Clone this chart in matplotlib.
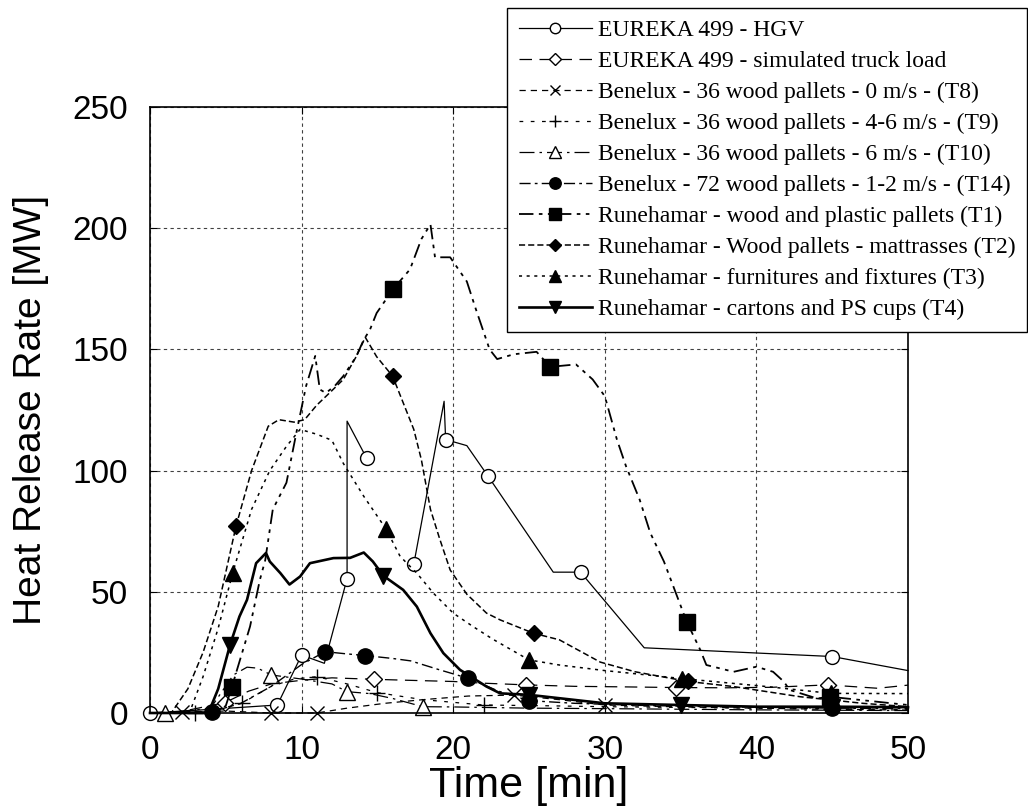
import numpy as np
import matplotlib
matplotlib.use("Agg")
import matplotlib.pyplot as plt

nan = np.nan

# EUREKA 499 - HGV
hgv_t = [0, 4, 8.4, 10.0, 11.5, 13.0, 13.0, 14.3, nan, 17.4, 19.4, 19.5, 20.9, 22.3, 26.6, 28.4, 32.6, 45.0, 50.0]
hgv_q = [0, 1.5, 3.3, 23.9, 20.5, 55.4, 120.4, 105.0, nan, 61.4, 128.6, 112.8, 110.3, 97.7, 58.1, 58.1, 26.9, 23.3, 17.5]
hgv_mk = [0, 2, 3, 5, 7, 9, 11, 13, 15, 17]

# EUREKA 499 - simulated truck load
sim_t = [0, 2, 4.95, 6.5, 8, 10, 12, 14.78, 17, 20, 22, 24.8, 28, 31, 34.7, 38, 41, 44.7, 48, 50]
sim_q = [0, 0.5, 4.3, 9, 12, 13.5, 14.5, 13.9, 13.5, 13, 12.3, 11.6, 11, 10.8, 10.5, 10.4, 10.6, 11.6, 10.2, 11.5]
sim_mk = [2, 7, 11, 14, 17]

# Benelux T8
t8_t = [0, 2.1, 5, 8, 11, 13, 15.5, 18, 21, 24, 27, 30, 35, 40, 45, 50]
t8_q = [0, 0.5, 0.8, 0, 0, 2, 4, 5.5, 7, 7.4, 5.5, 3.3, 2.5, 2, 1.5, 1.2]
t8_mk = [1, 3, 4, 9, 11]

# Benelux T9
t9_t = [0, 3, 4.5, 6.05, 8, 9.5, 11, 13, 15, 18, 22, 26, 30, 35, 40, 45, 50]
t9_q = [0, 0, 1.5, 4, 11, 14, 15, 12, 8.4, 5.5, 3.3, 3, 2.6, 2.3, 2, 1.8, 1.5]
t9_mk = [1, 3, 6, 8, 10]

# Benelux T10
t10_t = [0, 1, 4, 5.5, 6.4, 7.1, 8, 10, 12, 13, 14.5, 16, 18, 20, 25, 30, 40, 50]
t10_q = [0, 0, 2, 15.7, 18.9, 18.5, 15.7, 14, 12, 8.8, 8, 6, 2.6, 2.5, 2, 1.8, 1.3, 1]
t10_mk = [1, 6, 9, 12]

# Benelux T14
t14_t = [0, 4.07, 6, 8, 10, 11.55, 12.8, 14.2, 16, 17.2, 19, 21, 23, 25, 28, 32, 36, 40, 45, 50]
t14_q = [0, 0.5, 4, 11, 20, 25.3, 24.5, 23.7, 22.5, 21.5, 18, 14.3, 9, 5.1, 4, 3.2, 2.7, 2.4, 2.0, 1.8]
t14_mk = [1, 5, 7, 11, 13, 18]

# Runehamar T1
t1_t = [0, 4.5, 5.0, 5.4, 5.7, 6.6, 7.25, 7.6, 8.1, 9.0, 9.7, 10.3, 10.9, 11.2, 11.6, 12.2, 12.75, 13.6,
        14.1, 14.5, 14.95, 16.05, 17.15, 17.9, 18.5, 18.8, 19.8, 20.9, 21.5, 22.4, 22.9, 24.0, 25.5, 26.4,
        28.1, 29.2, 30.0, 30.8, 31.4, 32.3, 33.0, 33.9, 35.4, 36.3, 36.7, 38.5, 40.0, 41.1, 41.8, 42.2,
        44.0, 44.85, 50.0]
t1_q = [0, 0.5, 3, 10.6, 17, 35.7, 55, 63, 84, 95, 117, 135, 147.3, 133.5, 132, 135, 139, 147,
        154, 158, 165, 175, 183, 195.5, 201.6, 188, 188, 178, 166.5, 150, 146, 148, 149, 142.8,
        143.8, 137.6, 130.7, 112.8, 101.8, 88, 74.3, 62.5, 37.7, 26, 19.8, 17, 19.1, 17, 13, 9.5,
        6, 6.7, 3.3]
t1_mk = [3, 21, 33, 42, 51]

# Runehamar T2
t2_t = [0, 1.4, 2.5, 3.5, 4.5, 5.67, 6.7, 7.8, 8.5, 9.5, 10.2, 11, 12, 12.75, 13.6, 14.2, 14.95, 16.0,
        16.7, 17.4, 17.9, 18.5, 19.1, 19.8, 20.9, 22.2, 23.1, 25.3, 27.0, 29.7, 32, 35.5, 38.5, 42.9,
        44.9, 47, 50]
t2_q = [0, 0, 10, 25, 44, 77, 100, 118.3, 121, 120, 121, 127, 133, 137.6, 147, 155, 147, 139,
        128, 117, 104.5, 84, 72, 59, 49, 41.2, 38.4, 32.9, 30.2, 21, 17, 13, 10.9, 6.7,
        5.4, 4, 2.6]
t2_mk = [5, 17, 27, 31, 34]

# Runehamar T3
t3_t = [0, 2.6, 3.5, 4.5, 5.45, 6.7, 7.9, 9.0, 9.9, 11.0, 12.0, 12.75, 14.1, 15.57, 16.5, 17.6, 18.7,
        20.0, 21.3, 22.6, 25.0, 27.0, 30.0, 35.1, 40.7, 44.9, 50.0]
t3_q = [0, 0, 15, 35, 57.7, 84, 100, 110, 117, 115, 112.5, 103, 89.4, 75.9, 64.6, 57.7, 49.4,
        41.2, 35.7, 30.5, 21.9, 19.8, 17.5, 14.2, 10.9, 8.1, 8.0]
t3_mk = [4, 13, 20, 23, 25]

# Runehamar T4
t4_t = [0, 3.85, 4.5, 5.28, 5.9, 6.4, 7.0, 7.65, 7.9, 8.6, 9.2, 9.9, 10.55, 12.1, 13.2, 14.1, 14.7,
        15.4, 16.7, 17.6, 18.5, 19.35, 20.45, 22.2, 23.1, 25.0, 30.0, 35.0, 40.0, 45.0, 50.0]
t4_q = [0, 0, 10, 28.1, 39.8, 46.7, 61.8, 66, 62.5, 57.7, 53, 56.3, 61.8, 63.9, 64, 66.2, 62.5,
        56.6, 50.8, 43.9, 32.9, 24.7, 17.8, 10.9, 8.1, 7.5, 4, 3.3, 2.6, 2.6, 2.4]
t4_mk = [3, 17, 25, 27, 29]

labels = [
    "EUREKA 499 - HGV",
    "EUREKA 499 - simulated truck load",
    "Benelux - 36 wood pallets - 0 m/s - (T8)",
    "Benelux - 36 wood pallets - 4-6 m/s - (T9)",
    "Benelux - 36 wood pallets - 6 m/s - (T10)",
    "Benelux - 72 wood pallets - 1-2 m/s - (T14)",
    "Runehamar - wood and plastic pallets (T1)",
    "Runehamar - Wood pallets - mattrasses (T2)",
    "Runehamar - furnitures and fixtures (T3)",
    "Runehamar - cartons and PS cups (T4)",
]

fig = plt.figure(figsize=(10.28, 8.07), dpi=100)
ax = fig.add_axes([150 / 1028, 94 / 807, 758 / 1028, 606 / 807])

series = [
    (hgv_t, hgv_q, hgv_mk, dict(ls="-", lw=0.9, marker="o", ms=10, mfc="white")),
    (sim_t, sim_q, sim_mk, dict(ls=(0, (10, 6)), lw=0.9, marker="D", ms=8, mfc="white")),
    (t8_t, t8_q, t8_mk, dict(ls=(0, (5, 4)), lw=0.9, marker="x", ms=10, mew=1.0)),
    (t9_t, t9_q, t9_mk, dict(ls=(0, (3, 6)), lw=0.9, marker="+", ms=12, mew=1.0)),
    (t10_t, t10_q, t10_mk, dict(ls=(0, (12, 4, 2, 4)), lw=0.9, marker="^", ms=11, mfc="white")),
    (t14_t, t14_q, t14_mk, dict(ls=(0, (8, 3, 2, 3)), lw=1.0, marker="o", ms=11, mfc="black")),
    (t1_t, t1_q, t1_mk, dict(ls=(0, (8, 3, 2, 3, 2, 3)), lw=1.3, marker="s", ms=11, mfc="black")),
    (t2_t, t2_q, t2_mk, dict(ls=(0, (4, 2)), lw=1.1, marker="D", ms=8, mfc="black")),
    (t3_t, t3_q, t3_mk, dict(ls=(0, (2, 3)), lw=1.1, marker="^", ms=11, mfc="black")),
    (t4_t, t4_q, t4_mk, dict(ls="-", lw=1.9, marker="v", ms=11, mfc="black")),
]

for (t, q, mk, st), lab in zip(series, labels):
    ax.plot(t, q, color="black", mec="black", markevery=mk, label=lab, clip_on=False, **st)

ax.set_xlim(0, 50)
ax.set_ylim(0, 250)
ax.set_xticks([0, 10, 20, 30, 40, 50])
ax.set_yticks([0, 50, 100, 150, 200, 250])
ax.grid(True, color="0.25", ls=(0, (3, 3)), lw=0.8)
ax.tick_params(direction="in", length=5, right=True, top=True, labelsize=24, pad=16)
for lab in ax.get_xticklabels() + ax.get_yticklabels():
    lab.set_fontfamily("Liberation Sans")
for s in ax.spines.values():
    s.set_linewidth(1.2)

ax.set_xlabel("Time [min]", fontsize=31, family="Liberation Sans", labelpad=0)
ax.set_ylabel("Heat Release Rate [MW]", fontsize=28, family="Liberation Sans", labelpad=17)

leg = fig.legend(loc="upper left", bbox_to_anchor=(507 / 1028, 1 - 8 / 807), borderaxespad=0,
                 prop={"family": "Liberation Serif", "size": 17}, frameon=True, fancybox=False,
                 edgecolor="black", framealpha=1, handlelength=3.1, handletextpad=0.25,
                 labelspacing=0.4, borderpad=0.5, markerscale=0.75, numpoints=1)
leg.get_frame().set_linewidth(1.0)

plt.savefig("out.png", dpi=100)
